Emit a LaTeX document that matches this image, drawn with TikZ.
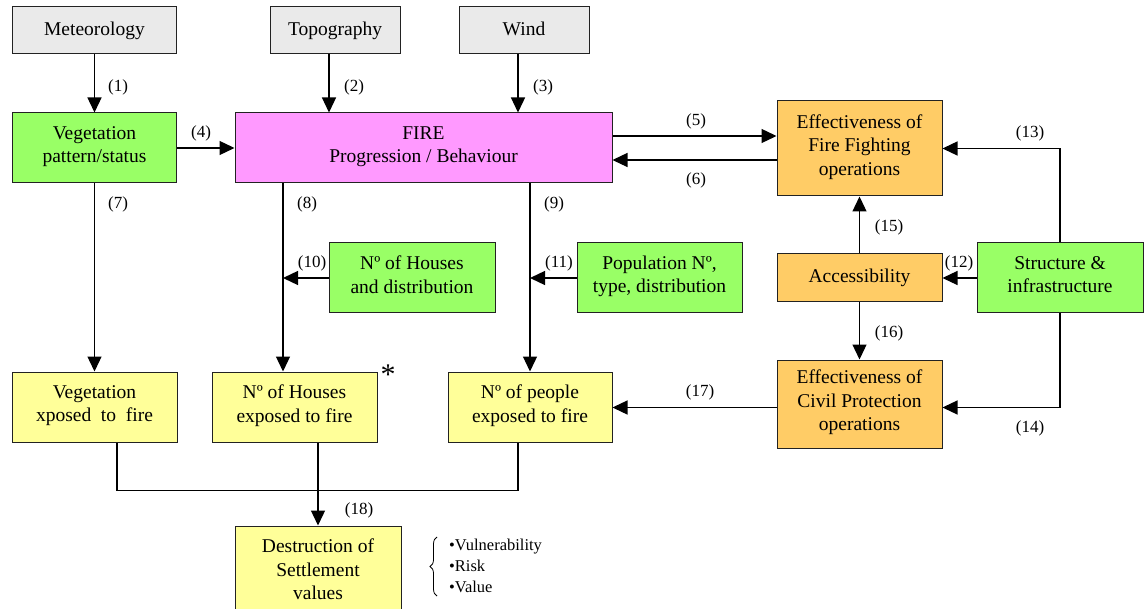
\documentclass[tikz,border=0pt]{standalone}
\usepackage{fontspec}
\setmainfont{Liberation Serif}
\usepackage{tikz}
\usetikzlibrary{arrows.meta,decorations.pathreplacing}
\definecolor{boxgrey}{HTML}{EAEAEA}
\definecolor{boxgreen}{HTML}{99FF66}
\definecolor{boxpink}{HTML}{FF99FF}
\definecolor{boxorange}{HTML}{FFCC66}
\definecolor{boxyellow}{HTML}{FFFF99}
\definecolor{edgegrey}{HTML}{222222}

\begin{document}
\begin{tikzpicture}[x=1pt,y=-1pt,
            		box/.style={draw=edgegrey,line width=1pt,align=center,inner sep=0pt,text=black,font=\fontsize{19.5}{23.5}\selectfont,
            			execute at begin node=\strut,execute at end node=\strut},
            		lbl/.style={font=\fontsize{17}{20}\selectfont},
            		arr/.style={line width=1.3pt,-{Triangle[length=15pt,width=14pt]}},
            		ln/.style={line width=1.3pt}]
            		\clip (0,0) rectangle (1145,609);

            		\node (met) at (94.5,30.5) [box,fill=boxgrey,minimum width=164pt,minimum height=47pt] {Meteorology};
            		\node (topo) at (335,30.5) [box,fill=boxgrey,minimum width=130pt,minimum height=47pt] {Topography};
            		\node (wind) at (524,30.5) [box,fill=boxgrey,minimum width=130pt,minimum height=47pt] {Wind};

            		\node (vegpat) at (94.5,148) [box,fill=boxgreen,minimum width=164pt,minimum height=70pt] {Vegetation\\pattern/status};
            		\node (fire) at (423.5,148) [box,fill=boxpink,minimum width=377pt,minimum height=70pt] {FIRE\\Progression / Behaviour};
            		\node (ffight) at (859.5,148.5) [box,fill=boxorange,minimum width=165pt,minimum height=95pt] {Effectiveness of\\Fire Fighting\\operations};

            		\node (housesd) at (412,278) [box,fill=boxgreen,minimum width=166pt,minimum height=70pt] {Nº of Houses\\and distribution};
            		\node (popd) at (659.5,278) [box,fill=boxgreen,minimum width=165pt,minimum height=70pt] {Population Nº,\\type, distribution};
            		\node (access) at (859.5,278) [box,fill=boxorange,minimum width=165pt,minimum height=48pt] {Accessibility};
            		\node (struct) at (1060,278) [box,fill=boxgreen,minimum width=166pt,minimum height=70pt] {Structure \&\\infrastructure};

            		\node (vegexp) at (94.5,407) [box,fill=boxyellow,minimum width=165pt,minimum height=70pt] {Vegetation\\xposed~ to~ fire};
            		\node (housexp) at (294.5,407) [box,fill=boxyellow,minimum width=165pt,minimum height=70pt] {Nº of Houses\\exposed to fire};
            		\node (peopexp) at (530,407) [box,fill=boxyellow,minimum width=164pt,minimum height=70pt] {Nº of people\\exposed to fire};
            		\node (civil) at (859.5,404) [box,fill=boxorange,minimum width=165pt,minimum height=88pt] {Effectiveness of\\Civil Protection\\operations};

            		\node (destr) at (318,573) [box,fill=boxyellow,minimum width=166pt,minimum height=94pt] {Destruction of\\Settlement\\values};
            		\node (star) at (388,375) [font=\fontsize{30}{30}\selectfont] {*};

            		\coordinate (hx) at ([xshift=-11.5pt]housexp.north);

            		\draw[arr] (met) -- (vegpat);
            		\draw[arr] ([xshift=-6pt]topo.south) -- ([xshift=-6pt]topo.south |- fire.north);
            		\draw[arr] ([xshift=-6pt]wind.south) -- ([xshift=-6pt]wind.south |- fire.north);
            		\draw[arr] (vegpat) -- (fire);
            		\draw[arr] ([yshift=12pt]fire.east) -- ([yshift=12pt]fire.east -| ffight.west);
            		\draw[arr] ([yshift=-12pt]fire.east -| ffight.west) -- ([yshift=-12pt]fire.east);
            		\draw[arr] (vegpat) -- (vegpat |- vegexp.north);
            		\draw[arr] (fire.south -| hx) -- (hx);
            		\draw[arr] (fire.south -| peopexp.north) -- (peopexp.north);
            		\draw[arr] (housesd.west) -- (housesd.west -| hx);
            		\draw[arr] (popd.west) -- (popd.west -| peopexp.north);
            		\draw[arr] (struct) -- (access);
            		\draw[arr] (struct.north) |- (ffight.east);
            		\draw[arr] (struct.south) |- ([yshift=-3.5pt]civil.east);
            		\draw[arr] (access) -- (ffight);
            		\draw[arr] (access) -- (civil);
            		\draw[arr] ([yshift=-3.5pt]civil.west) -- ([yshift=-3.5pt]civil.west -| peopexp.east);
            		\draw[ln] ([xshift=22.5pt]vegexp.south) -- ++(0,48) -| ([xshift=-12pt]peopexp.south);
            		\draw[arr] (housexp.south -| destr.north) -- (destr.north);

            		\node[lbl] at (118,87) {(1)};
            		\node[lbl] at (354,87) {(2)};
            		\node[lbl] at (543,87) {(3)};
            		\node[lbl] at (201,133) {(4)};
            		\node[lbl] at (696,121) {(5)};
            		\node[lbl] at (696,180) {(6)};
            		\node[lbl] at (118,204) {(7)};
            		\node[lbl] at (307,204) {(8)};
            		\node[lbl] at (554,204) {(9)};
            		\node[lbl] at (312,263) {(10)};
            		\node[lbl] at (559,263) {(11)};
            		\node[lbl] at (959,263) {(12)};
            		\node[lbl] at (1030,133) {(13)};
            		\node[lbl] at (1030,428) {(14)};
            		\node[lbl] at (889,227) {(15)};
            		\node[lbl] at (889,333) {(16)};
            		\node[lbl] at (700,392) {(17)};
            		\node[lbl] at (359,510) {(18)};

            		\draw[line width=0.8pt,decorate,decoration={brace,amplitude=7pt}] (437,596) -- (437,537);
            		\node (bullets) at (449,566) [lbl,anchor=west,align=left,font=\fontsize{16.5}{21}\selectfont,inner sep=0pt] {•Vulnerability\\•Risk\\•Value};

        		\end{tikzpicture}
\end{document}
